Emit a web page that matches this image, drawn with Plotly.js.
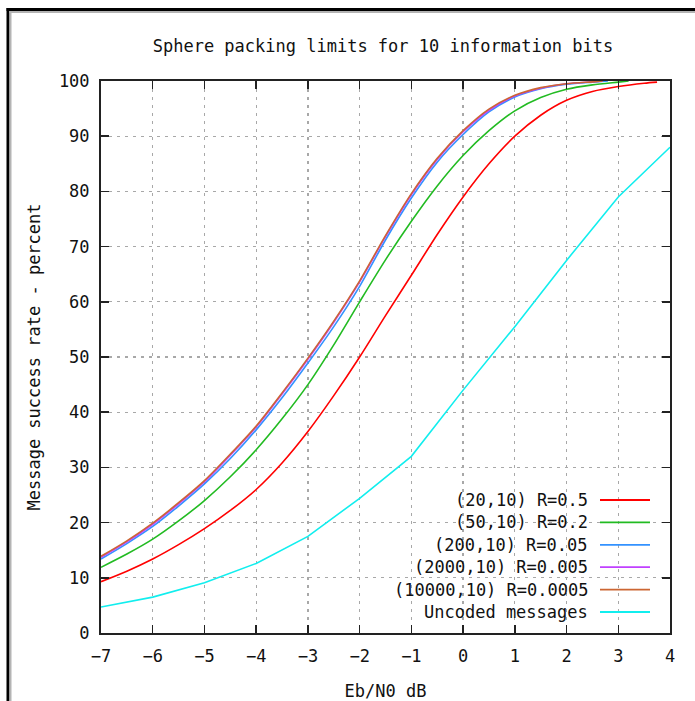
<!DOCTYPE html>
<html>
<head>
<meta charset="utf-8">
<script src="https://cdn.plot.ly/plotly-3.0.1.min.js"></script>
<style>
html,body{margin:0;padding:0;background:#fff;}
#chart{width:695px;height:701px;}
</style>
</head>
<body>
<div id="chart"></div>
<script>
// ---- data ----
const seriesNames = ["(20,10) R=0.5", "(50,10) R=0.2", "(200,10) R=0.05", "(2000,10) R=0.005", "(10000,10) R=0.0005", "Uncoded messages"];
const seriesColors = ["#ff0000", "#22bb22", "#3392ff", "#c040ff", "#cc6633", "#11eeee"];

const ebnoRed = [-7,-6.5,-6,-5.5,-5,-4.5,-4,-3.5,-3,-2.5,-2,-1.5,-1,-0.5,0,0.5,1,1.5,2,2.5,3,3.5,3.75];
const rateRed = [9.3,11.2,13.4,16.0,18.9,22.2,26.0,30.8,36.5,43.0,50.0,57.5,64.8,72.2,79.0,85.0,90.0,93.8,96.5,98.1,99.0,99.6,99.8];

const ebnoGreen = [-7,-6.5,-6,-5.5,-5,-4.5,-4,-3.5,-3,-2.5,-2,-1.5,-1,-0.5,0,0.5,1,1.5,2,2.5,3,3.2];
const rateGreen = [11.9,14.3,17.0,20.3,24.0,28.3,33.2,38.8,45.0,52.2,60.0,67.6,74.6,81.0,86.5,91.0,94.6,97.0,98.5,99.3,99.8,100];

const ebnoBlue = [-7,-6.5,-6,-5.5,-5,-4.5,-4,-3.5,-3,-2.5,-2,-1.5,-1,-0.5,0,0.5,1,1.5,2,2.5,2.8];
const rateBlue = [13.4,16.2,19.3,23.0,27.0,31.6,36.8,42.6,48.9,55.5,62.8,71.2,78.8,85.3,90.3,94.4,97.1,98.6,99.4,99.8,100];

const ebnoPurple = [-7,-6.5,-6,-5.5,-5,-4.5,-4,-3.5,-3,-2.5,-2,-1.5,-1,-0.5,0,0.5,1,1.5,2,2.5,2.7];
const ratePurple = [13.7,16.5,19.7,23.4,27.4,32.2,37.3,43.3,49.6,56.3,63.6,71.8,79.4,85.8,90.8,94.7,97.3,98.7,99.5,99.85,100];

const ebnoBrown = [-7,-6.5,-6,-5.5,-5,-4.5,-4,-3.5,-3,-2.5,-2,-1.5,-1,-0.5,0,0.5,1,1.5,2,2.5,2.7];
const rateBrown = [13.9,16.7,19.9,23.6,27.6,32.4,37.5,43.5,49.8,56.5,63.8,72.0,79.6,86.0,91.0,94.9,97.4,98.8,99.5,99.85,100];

const ebnoUncoded = [-7,-6,-5,-4,-3,-2,-1,0,1,2,3,4];
const rateUncoded = [4.7,6.5,9.1,12.6,17.5,24.4,32.0,44.0,55.5,67.5,79.0,88.0];

const xTickVals = [-7,-6,-5,-4,-3,-2,-1,0,1,2,3,4];
const xTickText = ["\u22127","\u22126","\u22125","\u22124","\u22123","\u22122","\u22121","0","1","2","3","4"];
const yTickVals = [0,10,20,30,40,50,60,70,80,90,100];

const titleText = "Sphere packing limits for 10 information bits";
const xTitleText = "Eb/N0 dB";
const yTitleText = "Message success rate - percent";

// ---- traces ----
const xs = [ebnoRed, ebnoGreen, ebnoBlue, ebnoPurple, ebnoBrown, ebnoUncoded];
const ys = [rateRed, rateGreen, rateBlue, ratePurple, rateBrown, rateUncoded];
const traces = xs.map((x, i) => ({
  type: "scatter", mode: "lines", x: x, y: ys[i], name: seriesNames[i],
  line: {color: seriesColors[i], width: 1.6, shape: i === 5 ? "linear" : "spline", smoothing: 0.8},
  showlegend: false, hoverinfo: "skip"
}));

// ---- geometry (pixels of the 695x701 picture) ----
const W = 695, H = 701, L = 101, R = 670, T = 81, B = 633;
const px = v => (v - L) / (R - L);      // pixel x -> paper x
const py = v => (B - v) / (B - T);      // pixel y -> paper y

const FONT = "DejaVu Sans Mono, Liberation Mono, monospace";
const FS = 17;

const shapes = [];
const annotations = [];
// white key box over the grid
shapes.push({type: "rect", xref: "paper", yref: "paper", x0: px(392), x1: px(662), y0: py(624), y1: py(489),
  fillcolor: "#ffffff", line: {width: 0}, layer: "between"});
// key: text on the left, line sample on the right
seriesNames.forEach((n, i) => {
  const yy = py(500 + i * 22.4);
  annotations.push({xref: "paper", yref: "paper", x: px(590), y: yy, xanchor: "right", yanchor: "middle",
    text: n, showarrow: false, font: {family: FONT, size: FS, color: "#111"}});
  shapes.push({type: "line", xref: "paper", yref: "paper", x0: px(600), x1: px(650), y0: yy, y1: yy,
    line: {color: seriesColors[i], width: 1.8}});
});
// outer frame of the picture (black + grey edge)
shapes.push({type: "line", xref: "paper", yref: "paper", x0: px(8), x1: px(8), y0: py(8), y1: py(710), line: {color: "#000", width: 3}});
shapes.push({type: "line", xref: "paper", yref: "paper", x0: px(10.5), x1: px(10.5), y0: py(11), y1: py(710), line: {color: "#b4b4b4", width: 2}});
shapes.push({type: "line", xref: "paper", yref: "paper", x0: px(6.5), x1: px(700), y0: py(9.5), y1: py(9.5), line: {color: "#000", width: 3}});
shapes.push({type: "line", xref: "paper", yref: "paper", x0: px(9.5), x1: px(700), y0: py(12), y1: py(12), line: {color: "#b4b4b4", width: 2}});

const axisCommon = {
  showline: true, linecolor: "#222", linewidth: 2, mirror: "ticks",
  ticks: "inside", ticklen: 8, tickwidth: 1.5, tickcolor: "#222",
  showgrid: true, gridcolor: "#a8a8a8", gridwidth: 1.3, griddash: "3px,5px",
  zeroline: false, automargin: false, fixedrange: true,
  tickfont: {family: FONT, size: FS, color: "#111"}
};

const layout = {
  width: W, height: H,
  margin: {l: L, r: W - R, t: T, b: H - B, pad: 0},
  paper_bgcolor: "#fff", plot_bgcolor: "#fff",
  showlegend: false,
  title: {text: titleText, font: {family: FONT, size: FS, color: "#111"},
    xref: "container", yref: "container", x: 383 / W, xanchor: "center", y: 1 - 46 / H, yanchor: "middle"},
  xaxis: Object.assign({}, axisCommon, {
    range: [-7, 4], tickmode: "array", tickvals: xTickVals, ticktext: xTickText,
    ticklabelstandoff: 7,
    title: {text: xTitleText, font: {family: FONT, size: FS, color: "#111"}, standoff: 20}
  }),
  yaxis: Object.assign({}, axisCommon, {
    range: [0, 100], tickmode: "array", tickvals: yTickVals,
    ticklabelstandoff: 6,
    title: {text: yTitleText, font: {family: FONT, size: FS, color: "#111"}, standoff: 14}
  }),
  shapes: shapes,
  annotations: annotations
};

Plotly.newPlot("chart", traces, layout, {staticPlot: true, displayModeBar: false});
</script>
</body>
</html>
